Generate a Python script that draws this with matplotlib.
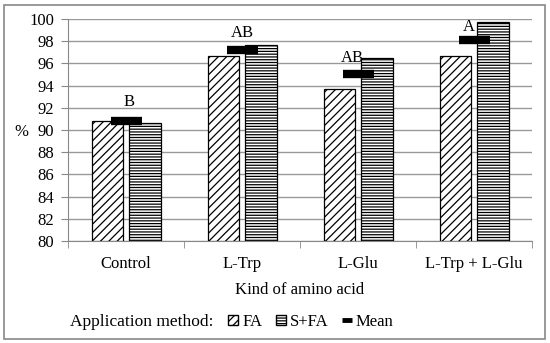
import numpy as np
import matplotlib
matplotlib.use('Agg')
import matplotlib.pyplot as plt
from matplotlib.patches import Patch, Rectangle
from matplotlib.lines import Line2D

categories = ['Control', 'L-Trp', 'L-Glu', 'L-Trp + L-Glu']
fa = [90.8, 96.7, 93.7, 96.7]
sfa = [90.6, 97.7, 96.5, 99.7]
mean = [90.85, 97.2, 95.05, 98.15]
letters = ['B', 'AB', 'AB', 'A']
letter_y = [92.55, 98.7, 96.45, 99.3]

plt.rcParams['font.family'] = ['Liberation Serif', 'DejaVu Serif']
plt.rcParams['hatch.linewidth'] = 0.9

fig = plt.figure(figsize=(5.5, 3.43), dpi=100)
ax = fig.add_axes([0.1236, 0.2974, 0.8434, 0.6472])

x = np.arange(len(categories))
w = 0.27
ax.bar(x - 0.16, np.array(fa) - 80, w, bottom=80, color='white', edgecolor='black',
       hatch='////', linewidth=0.9, zorder=3)
ax.bar(x + 0.165, np.array(sfa) - 80, w, bottom=80, color='white', edgecolor='black',
       hatch='------', linewidth=0.9, zorder=3)
ax.hlines(mean, x - 0.125, x + 0.135, color='black', linewidth=6, zorder=4)

offs = [0.025, 0.0, -0.05, -0.04]
for i, (t, y) in enumerate(zip(letters, letter_y)):
    ax.text(x[i] + offs[i], y, t, ha='center', va='center', fontsize=12, zorder=5)

ax.set_xlim(-0.5, 3.5)
ax.set_ylim(80, 100)
ax.set_yticks(np.arange(80, 101, 2))
ax.set_xticks(x)
ax.set_xticklabels(categories, fontsize=12)
ax.set_xticks(np.arange(-0.5, 3.6, 1), minor=True)
ax.tick_params(axis='x', which='major', length=0, pad=11)
ax.tick_params(axis='x', which='minor', length=5, color='#888888', direction='out')
ax.tick_params(axis='y', length=5, color='#888888', labelsize=12, pad=5)
ax.yaxis.grid(True, color='#999999', linewidth=1.0, zorder=0)
ax.set_axisbelow(True)
for s in ['top', 'right']:
    ax.spines[s].set_visible(False)
for s in ['left', 'bottom']:
    ax.spines[s].set_color('#888888')

ax.set_xlabel('Kind of amino acid', fontsize=12, labelpad=7)
fig.text(14 / 550, 1 - 132 / 343, '%', fontsize=12, ha='left', va='center')

fig.text(70 / 550, 1 - 322 / 343, 'Application method:', fontsize=12.5, ha='left', va='center')
handles = [Patch(facecolor='white', edgecolor='black', hatch='////', label='FA'),
           Patch(facecolor='white', edgecolor='black', hatch='------', label='S+FA'),
           Line2D([0], [0], color='black', lw=3.5, solid_capstyle='butt', label='Mean')]
fig.legend(handles=handles, loc='center left', bbox_to_anchor=(228 / 550, 1 - 322 / 343),
           ncol=3, frameon=False, fontsize=12, handlelength=0.6, handleheight=0.6,
           handletextpad=0.25, columnspacing=0.8, borderpad=0, borderaxespad=0)

fig.patches.append(Rectangle((4 / 550, 4 / 343), 541 / 550, 334 / 343, transform=fig.transFigure,
                             fill=False, edgecolor='#888888', linewidth=1.2))

fig.savefig('out.png', dpi=100)
